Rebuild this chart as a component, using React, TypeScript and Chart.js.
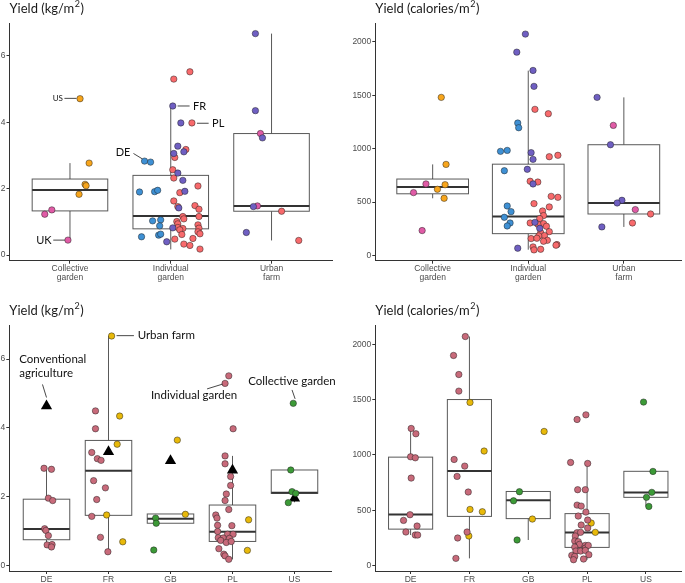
import React, { useEffect, useRef } from "react";
import { Chart, registerables } from "chart.js";

Chart.register(...registerables);

// ---------- categories & ticks ----------
const typeLabels = [["Collective", "garden"], ["Individual", "garden"], ["Urban", "farm"]];
const countryLabels = ["DE", "FR", "GB", "PL", "US"];
const kgTicks = [0, 2, 4, 6];
const calTicks = [0, 500, 1000, 1500, 2000];

// ---------- panel 1: kg/m2 by garden type (x = category + jitter) ----------
const p1US = [[1.10, 4.71], [1.19, 2.77], [1.15, 2.13], [1.16, 2.09], [1.09, 1.83]];
const p1UK = [[0.82, 1.36], [0.75, 1.23], [0.98, 0.45], [2.89, 3.66], [2.86, 1.48]];
const p1DE = [[1.74, 2.83], [1.80, 2.80], [1.69, 1.90], [1.84, 1.91], [1.87, 1.95], [1.82, 1.03], [1.90, 1.06], [1.89, 0.88], [1.71, 0.55], [1.88, 0.60], [1.90, 0.63]];
const p1FR = [[2.02, 4.49], [2.10, 3.98], [2.07, 3.28], [2.03, 3.06], [2.13, 3.11], [2.07, 2.47], [2.12, 2.25], [2.14, 1.92], [2.08, 1.42], [2.02, 0.82], [1.96, 0.40], [2.84, 6.67], [2.84, 4.35], [2.91, 3.53], [2.82, 1.46], [2.75, 0.68]];
const p1PL = [[2.19, 5.52], [2.03, 5.30], [2.21, 3.98], [2.15, 3.18], [2.04, 2.94], [2.02, 2.57], [2.03, 2.32], [2.27, 2.08], [2.09, 1.88], [2.03, 1.63], [2.07, 1.46], [2.24, 1.49], [2.28, 1.38], [2.12, 1.16], [2.28, 1.16], [2.13, 1.09], [2.06, 1.01], [2.07, 0.94], [2.27, 0.91], [2.28, 0.81], [2.07, 0.83], [2.12, 0.80], [2.09, 0.76], [2.27, 0.70], [2.29, 0.64], [2.11, 0.62], [2.04, 0.48], [2.22, 0.50], [2.13, 0.33], [2.19, 0.29], [2.29, 0.18], [3.10, 1.32], [3.27, 0.44]];
const p1Lo = [0.45, 0.17, 0.44];
const p1Q1 = [1.33, 0.79, 1.32];
const p1Med = [1.96, 1.18, 1.48];
const p1Q3 = [2.29, 2.40, 3.66];
const p1Hi = [2.77, 4.49, 6.67];

// ---------- panel 2: calories/m2 by garden type ----------
const p2US = [[1.09, 1480], [1.14, 853], [1.13, 663], [1.05, 620], [1.12, 536]];
const p2UK = [[0.93, 670], [0.80, 589], [0.89, 234], [2.89, 1218], [3.12, 430]];
const p2DE = [[1.89, 1240], [1.90, 1196], [1.71, 975], [1.78, 984], [1.75, 794], [1.78, 464], [1.82, 411], [1.75, 358], [1.81, 305], [1.78, 277]];
const p2FR = [[1.97, 2072], [1.88, 1903], [2.05, 1732], [2.06, 1583], [2.03, 963], [2.05, 900], [1.99, 807], [2.05, 670], [2.07, 311], [2.12, 255], [1.89, 69], [2.72, 1480], [2.86, 1037], [2.98, 517], [2.93, 492], [2.77, 268]];
const p2PL = [[2.07, 1368], [2.21, 1327], [2.22, 925], [2.31, 938], [2.02, 695], [2.10, 688], [2.06, 486], [2.24, 554], [2.31, 545], [2.15, 417], [2.22, 455], [2.16, 374], [2.12, 346], [2.02, 305], [2.16, 299], [2.10, 293], [2.19, 274], [2.22, 224], [2.13, 215], [2.17, 187], [2.11, 184], [2.03, 159], [2.09, 162], [2.20, 143], [2.16, 134], [2.30, 103], [2.29, 97], [2.05, 81], [2.06, 53], [2.13, 59], [3.28, 389], [3.09, 305]];
const p2Lo = [536, 55, 268];
const p2Q1 = [578, 205, 389];
const p2Med = [641, 365, 492];
const p2Q3 = [716, 855, 1037];
const p2Hi = [853, 1730, 1480];

// ---------- panel 3: kg/m2 by country ----------
const p3Individual = [[0.96, 2.82], [1.08, 2.79], [1.03, 1.95], [1.10, 1.88], [0.97, 1.06], [0.99, 1.01], [1.03, 0.86], [1.01, 0.59], [1.09, 0.60], [1.08, 0.53],
  [1.79, 4.49], [1.79, 3.97], [1.73, 3.28], [1.82, 3.10], [1.88, 3.05], [1.76, 2.46], [1.95, 2.25], [1.81, 1.91], [1.73, 1.42], [1.87, 0.81], [1.99, 0.39],
  [3.94, 5.51], [3.88, 5.29], [4.01, 3.97], [3.88, 3.18], [3.88, 2.95], [3.97, 2.58], [3.97, 2.32], [3.90, 2.07], [3.88, 1.88], [3.94, 1.62], [3.73, 1.46], [3.75, 1.37], [3.76, 1.16], [3.99, 1.15], [3.76, 0.98], [3.92, 0.90], [4.01, 0.90], [3.77, 0.80], [3.85, 0.79], [3.95, 0.78], [3.81, 0.72], [3.90, 0.66], [3.98, 0.69], [3.78, 0.48], [3.86, 0.32], [3.88, 0.27], [3.94, 0.17]];
const p3Urban = [[2.05, 6.67], [2.18, 4.34], [2.14, 3.52], [1.97, 1.46], [2.23, 0.68], [3.11, 3.64], [3.24, 1.48], [4.26, 1.32], [4.24, 0.43]];
const p3Collective = [[2.76, 1.37], [2.77, 1.22], [2.73, 0.44], [4.98, 4.71], [4.94, 2.77], [4.96, 2.14], [5.02, 2.09], [4.90, 1.82]];
const p3Conventional = [[1, 4.63], [2, 3.30], [3, 3.04], [4, 2.76], [5, 1.95]];
const p3Lo = [0.53, 0.39, 1.22, 0.17, 1.83];
const p3Q1 = [0.74, 1.45, 1.22, 0.69, 2.09];
const p3Med = [1.05, 2.75, 1.35, 0.97, 2.11];
const p3Q3 = [1.92, 3.63, 1.49, 1.75, 2.77];
const p3Hi = [2.82, 6.67, 1.49, 3.18, 2.77];

// ---------- panel 4: calories/m2 by country ----------
const p4Individual = [[1.01, 1239], [1.09, 1191], [1.00, 983], [1.08, 974], [1.01, 791], [0.99, 460], [0.88, 409], [1.11, 358], [0.92, 304], [1.08, 277], [1.12, 277],
  [1.93, 2069], [1.73, 1898], [1.82, 1726], [1.82, 1576], [1.74, 959], [1.92, 899], [1.79, 806], [1.98, 665], [1.96, 304], [1.80, 250], [1.77, 66],
  [3.98, 1362], [3.83, 1320], [3.72, 932], [4.01, 923], [3.97, 686], [3.84, 686], [3.83, 547], [3.90, 538], [3.98, 484], [3.85, 448], [4.01, 412], [3.90, 367], [4.01, 340], [3.83, 298], [3.80, 268], [3.89, 301], [3.79, 223], [3.85, 217], [3.87, 192], [3.97, 183], [3.79, 168], [3.97, 159], [4.02, 183], [3.81, 132], [3.89, 132], [3.97, 138], [4.03, 99], [3.74, 93], [3.79, 84], [3.94, 60], [3.77, 54]];
const p4Urban = [[2.01, 1474], [2.25, 1035], [2.01, 508], [2.22, 487], [1.99, 268], [3.27, 1212], [3.07, 421], [4.07, 385], [4.14, 301]];
const p4Collective = [[2.85, 668], [2.75, 586], [2.81, 232], [4.96, 1477], [5.12, 851], [5.10, 662], [5.01, 617], [5.05, 535]];
const p4Lo = [277, 66, 232, 54, 535];
const p4Q1 = [330, 445, 425, 165, 617];
const p4Med = [462, 855, 590, 300, 660];
const p4Q3 = [980, 1500, 670, 470, 852];
const p4Hi = [1239, 2069, 670, 925, 852];

// ---------- annotation labels ----------
const p1Notes = [
  { text: ["US"], x: 0.93, y: 4.72, align: "right", size: 8, seg: [0.945, 4.72, 1.065, 4.72] },
  { text: ["UK"], x: 0.818, y: 0.45, align: "right", size: 11, seg: [0.834, 0.45, 0.95, 0.45] },
  { text: ["DE"], x: 1.60, y: 3.08, align: "right", size: 11, seg: [1.63, 3.06, 1.716, 2.90] },
  { text: ["FR"], x: 2.22, y: 4.49, align: "left", size: 11, seg: [2.068, 4.49, 2.187, 4.49] },
  { text: ["PL"], x: 2.41, y: 3.97, align: "left", size: 11, seg: [2.26, 3.97, 2.376, 3.97] },
];
const p3Notes = [
  { text: ["Conventional", "agriculture"], x: 0.56, y: 6.0, align: "left", size: 11.5, seg: [0.935, 5.26, 1.0, 4.88] },
  { text: ["Urban farm"], x: 2.47, y: 6.68, align: "left", size: 11.5, seg: [2.13, 6.68, 2.41, 6.68] },
  { text: ["Individual garden"], x: 3.38, y: 4.93, align: "center", size: 11.5, seg: [3.59, 5.13, 3.84, 5.27] },
  { text: ["Collective garden"], x: 4.96, y: 5.34, align: "center", size: 11.5, seg: [4.96, 5.10, 5.01, 4.84] },
];

const COL = {
  US: "#F7A51C", UK: "#E05BA6", DE: "#3E90D4", FR: "#6F5FC2", PL: "#F86A6C",
  indiv: "#C86A7A", urban: "#E8B90A", coll: "#3C9A37",
};

const toXY = (arr) => arr.map((p) => ({ x: p[0], y: p[1] }));

const boxPlugin = {
  id: "boxes",
  beforeDatasetsDraw(chart, _args, opts) {
    const { ctx } = chart;
    const xs = chart.scales.x, ys = chart.scales.y;
    ctx.save();
    for (let i = 0; i < opts.med.length; i++) {
      const c = i + 1;
      const xl = xs.getPixelForValue(c - 0.375), xr = xs.getPixelForValue(c + 0.375), xc = xs.getPixelForValue(c);
      const pLo = ys.getPixelForValue(opts.lo[i]), pQ1 = ys.getPixelForValue(opts.q1[i]);
      const pMed = ys.getPixelForValue(opts.med[i]), pQ3 = ys.getPixelForValue(opts.q3[i]);
      const pHi = ys.getPixelForValue(opts.hi[i]);
      ctx.strokeStyle = "rgba(60,60,60,0.85)";
      ctx.lineWidth = 1;
      ctx.beginPath();
      ctx.moveTo(xc, pQ3); ctx.lineTo(xc, pHi);
      ctx.moveTo(xc, pQ1); ctx.lineTo(xc, pLo);
      ctx.stroke();
      ctx.fillStyle = "#ffffff";
      ctx.fillRect(xl, pQ3, xr - xl, pQ1 - pQ3);
      ctx.strokeRect(xl, pQ3, xr - xl, pQ1 - pQ3);
      ctx.strokeStyle = "#333333";
      ctx.lineWidth = 2;
      ctx.beginPath();
      ctx.moveTo(xl, pMed); ctx.lineTo(xr, pMed);
      ctx.stroke();
    }
    ctx.restore();
  },
};

const notesPlugin = {
  id: "notes",
  afterDatasetsDraw(chart, _args, opts) {
    const { ctx } = chart;
    const xs = chart.scales.x, ys = chart.scales.y;
    ctx.save();
    (opts.items || []).forEach((n) => {
      ctx.strokeStyle = "#333";
      ctx.lineWidth = 0.9;
      ctx.beginPath();
      ctx.moveTo(xs.getPixelForValue(n.seg[0]), ys.getPixelForValue(n.seg[1]));
      ctx.lineTo(xs.getPixelForValue(n.seg[2]), ys.getPixelForValue(n.seg[3]));
      ctx.stroke();
      ctx.fillStyle = "#111";
      ctx.font = `${n.size}px Lato`;
      ctx.textAlign = n.align;
      ctx.textBaseline = "middle";
      const px = xs.getPixelForValue(n.x);
      const py = ys.getPixelForValue(n.y);
      n.text.forEach((t, k) => ctx.fillText(t, px, py + k * n.size * 1.25));
    });
    ctx.restore();
  },
};

const titlePlugin = {
  id: "ytitle",
  afterDraw(chart, _args, opts) {
    const { ctx, chartArea } = chart;
    ctx.save();
    ctx.fillStyle = "#1a1a1a";
    ctx.textBaseline = "middle";
    ctx.textAlign = "left";
    const y = chartArea.top - 14;
    let x = chartArea.left;
    ctx.font = "13px Lato";
    ctx.fillText(opts.pre, x, y);
    x += ctx.measureText(opts.pre).width;
    ctx.font = "9px Lato";
    ctx.fillText("2", x + 0.5, y - 5);
    x += ctx.measureText("2").width + 1;
    ctx.font = "13px Lato";
    ctx.fillText(")", x, y);
    ctx.restore();
  },
};

function makeConfig(p) {
  const n = p.cats.length;
  const tickFont = { family: "'Liberation Sans', Arial, sans-serif", size: 8.5, lineHeight: 1.0 };
  return {
    type: "scatter",
    data: {
      datasets: p.series.map((s) => ({
        data: toXY(s.data),
        backgroundColor: s.color,
        borderColor: s.tri ? s.color : "rgba(30,30,30,0.8)",
        borderWidth: s.tri ? 0 : 0.6,
        pointRadius: s.tri ? 6.5 : 3.2,
        pointStyle: s.tri ? "triangle" : "circle",
        pointHoverRadius: 0,
      })),
    },
    options: {
      responsive: false,
      animation: false,
      events: [],
      layout: { padding: p.padding },
      plugins: {
        legend: { display: false },
        tooltip: { enabled: false },
        title: { display: false },
        boxes: p.box,
        notes: { items: p.notes || [] },
        ytitle: { pre: p.title },
      },
      scales: {
        x: {
          type: "linear",
          min: 0.4,
          max: n + 0.6,
          afterBuildTicks: (axis) => { axis.ticks = p.cats.map((_, i) => ({ value: i + 1 })); },
          afterFit: (scale) => { scale.height = p.xHeight; },
          ticks: {
            callback: (_v, i) => p.cats[i],
            color: "#4d4d4d",
            font: tickFont,
            padding: 1,
            maxRotation: 0,
            autoSkip: false,
          },
          grid: { display: true, drawOnChartArea: false, drawTicks: true, tickLength: 3, color: "#333" },
          border: { display: true, color: "#333", width: 1 },
        },
        y: {
          type: "linear",
          min: p.yMin,
          max: p.yMax,
          afterBuildTicks: (axis) => { axis.ticks = p.yTicks.map((v) => ({ value: v })); },
          afterFit: (scale) => { scale.width = p.yWidth; },
          ticks: {
            callback: (v) => String(v),
            color: "#4d4d4d",
            font: tickFont,
            padding: 1,
          },
          grid: { display: true, drawOnChartArea: false, drawTicks: true, tickLength: 3, color: "#333" },
          border: { display: true, color: "#333", width: 1 },
        },
      },
    },
    plugins: [boxPlugin, notesPlugin, titlePlugin],
  };
}

const panels = [
  {
    key: "p1", left: 0, top: 0, width: 342, height: 290,
    cats: typeLabels, yMin: -0.17, yMax: 6.99, yTicks: kgTicks, title: "Yield (kg/m",
    padding: { top: 23, right: 10, left: 0, bottom: 0 }, yWidth: 9.5, xHeight: 29.3,
    series: [
      { data: p1DE, color: COL.DE }, { data: p1FR, color: COL.FR }, { data: p1PL, color: COL.PL },
      { data: p1UK, color: COL.UK }, { data: p1US, color: COL.US },
    ],
    box: { lo: p1Lo, q1: p1Q1, med: p1Med, q3: p1Q3, hi: p1Hi },
    notes: p1Notes,
  },
  {
    key: "p2", left: 342, top: 0, width: 343, height: 290,
    cats: typeLabels, yMin: -48, yMax: 2173, yTicks: calTicks, title: "Yield (calories/m",
    padding: { top: 23.3, right: 1, left: 0, bottom: 0 }, yWidth: 33.3, xHeight: 29.3,
    series: [
      { data: p2DE, color: COL.DE }, { data: p2FR, color: COL.FR }, { data: p2PL, color: COL.PL },
      { data: p2UK, color: COL.UK }, { data: p2US, color: COL.US },
    ],
    box: { lo: p2Lo, q1: p2Q1, med: p2Med, q3: p2Q3, hi: p2Hi },
    notes: [],
  },
  {
    key: "p3", left: 0, top: 290, width: 342, height: 293,
    cats: countryLabels, yMin: -0.17, yMax: 6.99, yTicks: kgTicks, title: "Yield (kg/m",
    padding: { top: 35, right: 10.3, left: 0, bottom: 0 }, yWidth: 9.3, xHeight: 12,
    series: [
      { data: p3Individual, color: COL.indiv }, { data: p3Urban, color: COL.urban },
      { data: p3Collective, color: COL.coll }, { data: p3Conventional, color: "#000000", tri: true },
    ],
    box: { lo: p3Lo, q1: p3Q1, med: p3Med, q3: p3Q3, hi: p3Hi },
    notes: p3Notes,
  },
  {
    key: "p4", left: 342, top: 290, width: 343, height: 293,
    cats: countryLabels, yMin: -48, yMax: 2173, yTicks: calTicks, title: "Yield (calories/m",
    padding: { top: 35, right: 2, left: 0, bottom: 0 }, yWidth: 33.3, xHeight: 12,
    series: [
      { data: p4Individual, color: COL.indiv }, { data: p4Urban, color: COL.urban },
      { data: p4Collective, color: COL.coll },
    ],
    box: { lo: p4Lo, q1: p4Q1, med: p4Med, q3: p4Q3, hi: p4Hi },
    notes: [],
  },
];

function Panel({ p }) {
  const ref = useRef(null);
  useEffect(() => {
    const chart = new Chart(ref.current, makeConfig(p) as any);
    return () => chart.destroy();
  }, []);
  return (
    <canvas
      ref={ref}
      width={p.width}
      height={p.height}
      style={{ position: "absolute", left: p.left, top: p.top, width: p.width, height: p.height }}
    />
  );
}

export default function App() {
  return (
    <div style={{ position: "absolute", left: 0, top: 0, width: 685, height: 583, background: "#fff", overflow: "hidden" }}>
      {panels.map((p) => <Panel key={p.key} p={p} />)}
    </div>
  );
}
